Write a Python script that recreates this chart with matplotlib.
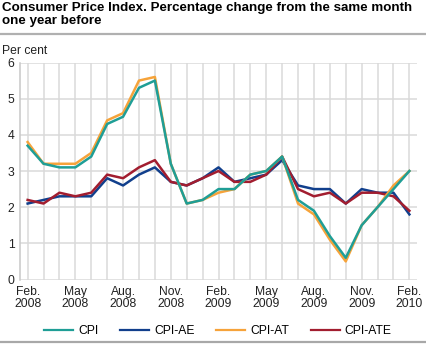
import matplotlib
matplotlib.use("Agg")
import matplotlib.pyplot as plt
from matplotlib.lines import Line2D

plt.rcParams["font.family"] = ["Liberation Sans", "DejaVu Sans"]

# Monthly observations, Feb. 2008 - Feb. 2010
months = list(range(25))
tick_pos = [0, 3, 6, 9, 12, 15, 18, 21, 24]
tick_labels = ["Feb.\n2008", "May\n2008", "Aug.\n2008", "Nov.\n2008",
               "Feb.\n2009", "May\n2009", "Aug.\n2009", "Nov.\n2009",
               "Feb.\n2010"]

cpi = [3.7, 3.2, 3.1, 3.1, 3.4, 4.3, 4.5, 5.3, 5.5, 3.2, 2.1, 2.2, 2.5,
       2.5, 2.9, 3.0, 3.4, 2.2, 1.9, 1.2, 0.6, 1.5, 2.0, 2.5, 3.0]
cpi_ae = [2.1, 2.2, 2.3, 2.3, 2.3, 2.8, 2.6, 2.9, 3.1, 2.7, 2.6, 2.8, 3.1,
          2.7, 2.8, 2.9, 3.3, 2.6, 2.5, 2.5, 2.1, 2.5, 2.4, 2.4, 1.8]
cpi_at = [3.8, 3.2, 3.2, 3.2, 3.5, 4.4, 4.6, 5.5, 5.6, 3.2, 2.1, 2.2, 2.4,
          2.5, 2.9, 3.0, 3.4, 2.1, 1.8, 1.1, 0.5, 1.5, 2.0, 2.6, 3.0]
cpi_ate = [2.2, 2.1, 2.4, 2.3, 2.4, 2.9, 2.8, 3.1, 3.3, 2.7, 2.6, 2.8, 3.0,
           2.7, 2.7, 2.9, 3.4, 2.5, 2.3, 2.4, 2.1, 2.4, 2.4, 2.3, 1.9]

series = [
    ("CPI", cpi, "#1f9e96"),
    ("CPI-AE", cpi_ae, "#113f8c"),
    ("CPI-AT", cpi_at, "#f6a33a"),
    ("CPI-ATE", cpi_ate, "#a21d2f"),
]
draw_order = ["CPI-AE", "CPI-ATE", "CPI-AT", "CPI"]

W, H = 426, 344
fig = plt.figure(figsize=(W / 100, H / 100), dpi=100)

left, right, top, bottom = 20, 416.7, 62.5, 279.5
ax = fig.add_axes([left / W, 1 - bottom / H, (right - left) / W, (bottom - top) / H])

grid_c = "#dadada"
for m in months:
    ax.axvline(m, color=grid_c, lw=1.1, zorder=0)
for v in range(7):
    ax.axhline(v, color=grid_c, lw=1.1, zorder=0)

lookup = {name: (vals, col) for name, vals, col in series}
for name in draw_order:
    vals, col = lookup[name]
    ax.plot(months, vals, color=col, lw=1.8, zorder=3)

ax.set_xlim(-0.48, 24.46)
ax.set_ylim(0, 6)
ax.set_yticks(range(7))
ax.set_xticks(tick_pos)
ax.set_xticklabels(tick_labels, linespacing=1.0)
ax.tick_params(length=0, labelsize=8.7, colors="#222222", pad=4)
ax.tick_params(axis="x", pad=5)
for s in ["top", "right", "bottom"]:
    ax.spines[s].set_visible(False)
ax.spines["left"].set_color("#c8c8c8")
ax.spines["left"].set_linewidth(1.1)

fig.text(2 / W, 1 - 2 / H,
         "Consumer Price Index. Percentage change from the same month\none year before",
         ha="left", va="top", fontsize=9.6, fontweight="bold", linespacing=1.1)
fig.add_artist(Line2D([0, 1], [1 - 33.5 / H] * 2, color="#b0b0b0", lw=1.6))
fig.text(2 / W, 1 - 50.5 / H, "Per cent", ha="left", va="center", fontsize=8.7,
         color="#222222")
fig.add_artist(Line2D([0, 1], [1 - 342 / H] * 2, color="#a8a8a8", lw=1.6))

handles = [Line2D([], [], color=col, lw=1.6) for _, _, col in series]
fig.legend(handles, [n for n, _, _ in series], loc="center",
           bbox_to_anchor=(218 / W, 1 - 331 / H), ncol=4, frameon=False,
           fontsize=8.7, handlelength=2.4, handletextpad=0.4,
           columnspacing=1.8, borderpad=0)

fig.savefig("out.png", dpi=100)
